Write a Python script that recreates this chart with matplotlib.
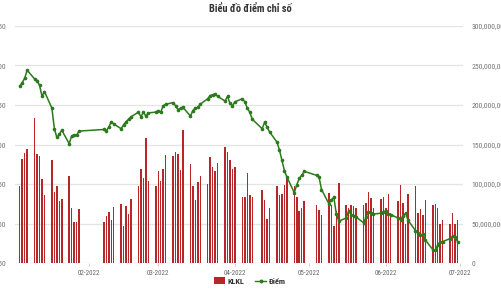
import matplotlib
matplotlib.use('Agg')
import matplotlib.pyplot as plt
import matplotlib.dates as mdates
from matplotlib import font_manager as fm
from matplotlib.ticker import FuncFormatter
from matplotlib.patches import Patch
from matplotlib.lines import Line2D
import pandas as pd
import numpy as np

title = 'Biểu đồ điểm chỉ số'
series_names = ['KLKL', 'Điểm']

dates = [
    '2022-01-04', '2022-01-05', '2022-01-06', '2022-01-07',
    '2022-01-10', '2022-01-11', '2022-01-12', '2022-01-13', '2022-01-14',
    '2022-01-17', '2022-01-18', '2022-01-19', '2022-01-20', '2022-01-21',
    '2022-01-24', '2022-01-25', '2022-01-26', '2022-01-27', '2022-01-28',
    '2022-02-07', '2022-02-08', '2022-02-09', '2022-02-10', '2022-02-11',
    '2022-02-14', '2022-02-15', '2022-02-16', '2022-02-17', '2022-02-18',
    '2022-02-21', '2022-02-22', '2022-02-23', '2022-02-24', '2022-02-25',
    '2022-02-28',
    '2022-03-01', '2022-03-02', '2022-03-03', '2022-03-04',
    '2022-03-07', '2022-03-08', '2022-03-09', '2022-03-10', '2022-03-11',
    '2022-03-14', '2022-03-15', '2022-03-16', '2022-03-17', '2022-03-18',
    '2022-03-21', '2022-03-22', '2022-03-23', '2022-03-24', '2022-03-25',
    '2022-03-28', '2022-03-29', '2022-03-30', '2022-03-31',
    '2022-04-01',
    '2022-04-04', '2022-04-05', '2022-04-06', '2022-04-07', '2022-04-08',
    '2022-04-12', '2022-04-13', '2022-04-14', '2022-04-15',
    '2022-04-18', '2022-04-19', '2022-04-20', '2022-04-21', '2022-04-22',
    '2022-04-25', '2022-04-26', '2022-04-27', '2022-04-28', '2022-04-29',
    '2022-05-04', '2022-05-05', '2022-05-06',
    '2022-05-09', '2022-05-10', '2022-05-11', '2022-05-12', '2022-05-13',
    '2022-05-16', '2022-05-17', '2022-05-18', '2022-05-19', '2022-05-20',
    '2022-05-23', '2022-05-24', '2022-05-25', '2022-05-26', '2022-05-27',
    '2022-05-30', '2022-05-31',
    '2022-06-01', '2022-06-02', '2022-06-03',
    '2022-06-06', '2022-06-07', '2022-06-08', '2022-06-09', '2022-06-10',
    '2022-06-13', '2022-06-14', '2022-06-15', '2022-06-16', '2022-06-17',
    '2022-06-20', '2022-06-21', '2022-06-22', '2022-06-23', '2022-06-24',
    '2022-06-27', '2022-06-28', '2022-06-29', '2022-06-30',
]

# trading volume, millions of shares
volume_m = [
    97, 132, 139, 144, 184, 138, 135, 106, 86, 130, 90, 98, 78, 81, 110, 69, 52, 52, 68,
    52, 59, 65, 54, 71, 75, 47, 72, 62, 81, 98, 119, 108, 158, 104, 98,
    117, 104, 119, 137, 136, 140, 138, 118, 168, 125, 97, 80, 102, 110, 100, 134, 122, 116, 127,
    147, 141, 130, 119,
    122, 84, 83, 114, 86, 84, 92, 80, 56, 69, 98, 86, 87, 99, 107, 97, 83, 66, 69, 78,
    73, 67, 61, 88, 73, 47, 66, 101, 73, 69, 74, 72, 69, 73, 76, 90, 82, 70, 81, 84,
    69, 87, 63, 79, 99, 76, 50, 87, 98, 63, 68, 61, 80, 74, 75, 69, 49, 54, 49, 63, 50, 55,
]

index_points = [
    1474, 1478, 1484, 1494, 1483, 1481, 1475, 1461, 1467, 1446, 1420, 1409, 1413, 1418,
    1401, 1411, 1412, 1412, 1417,
    1419, 1417, 1422, 1429, 1426, 1420, 1425, 1429, 1432, 1435, 1441, 1435, 1441, 1436,
    1440, 1441,
    1443, 1441, 1449, 1451, 1453, 1449, 1444, 1446, 1447, 1436, 1443, 1446, 1447, 1451,
    1458, 1462, 1463, 1464, 1461, 1455, 1461, 1452, 1449,
    1454, 1458, 1454, 1446, 1441, 1432, 1420, 1428, 1422, 1416, 1403, 1393, 1380, 1367,
    1359, 1339, 1349, 1357, 1361, 1366,
    1361, 1359, 1343, 1325, 1330, 1333, 1312, 1303, 1307, 1316, 1311, 1309, 1308, 1301,
    1308, 1315, 1313, 1312, 1313, 1315,
    1316, 1312, 1311, 1307, 1305, 1310, 1313, 1304, 1291, 1288, 1285, 1287, 1279, 1267,
    1266, 1273, 1277, 1277, 1281, 1284, 1283, 1277,
]


def font_available(name):
    try:
        fm.findfont(fm.FontProperties(family=name), fallback_to_default=False)
        return True
    except Exception:
        return False


family = 'DejaVu Sans'
for cand in ['Liberation Sans Narrow', 'Roboto Condensed', 'Open Sans Condensed',
             'Noto Sans Condensed', 'DejaVu Sans Condensed', 'Liberation Sans']:
    if font_available(cand):
        family = cand
        break
plt.rcParams['font.family'] = [family, 'DejaVu Sans']

x = pd.to_datetime(dates)
vol = np.array(volume_m) * 1e6
pts = np.array(index_points)

bar_color = '#b8262a'
line_color = '#2b7a1c'
grid_color = '#e4e4e4'
tick_color = '#777777'

fig = plt.figure(figsize=(5.01, 3.0), dpi=100)
renderer = fig.canvas.get_renderer()


def fit_size(text, target_px, weight='normal'):
    t = fig.text(0, 0, text, fontsize=10, fontweight=weight)
    w = t.get_window_extent(renderer=renderer).width
    t.remove()
    return 10.0 * target_px / w


title_size = min(fit_size(title, 84, 'bold'), 7.5)
xtick_size = min(fit_size('02-2022', 22), 6.0)
ytick_size = min(fit_size('300,000,000', 37), 6.0)
legend_size = min(fit_size('KLKL', 17, 'bold'), 6.5)

ax = fig.add_axes([15 / 501, 1 - 263 / 300, 448 / 501, 237 / 300])
ax2 = ax.twinx()

ax.bar(x, vol, width=0.6, color=bar_color, linewidth=0)
ax.set_ylim(0, 300e6)
ax.set_yticks(np.arange(0, 300e6 + 1, 50e6))
ax.yaxis.set_major_formatter(FuncFormatter(lambda v, p: f'{v:,.0f}'))
ax.yaxis.tick_right()
ax.grid(axis='y', color=grid_color, linewidth=0.9)
ax.set_axisbelow(True)

ax2.plot(x, pts, color=line_color, linewidth=1.1, marker='o', markersize=1.6)
ax2.set_ylim(1250, 1550)
ax2.set_yticks(np.arange(1250, 1551, 50))
ax2.yaxis.set_major_formatter(FuncFormatter(lambda v, p: f'{v:,.0f}'))
ax2.yaxis.tick_left()
ax2.grid(False)

ax.set_xlim(pd.Timestamp('2022-01-02 02:00'), pd.Timestamp('2022-07-02 05:00'))
ax.xaxis.set_major_locator(mdates.MonthLocator())
ax.xaxis.set_major_formatter(mdates.DateFormatter('%m-%Y'))

for a in (ax, ax2):
    for s in a.spines.values():
        s.set_visible(False)

ax.tick_params(axis='y', length=0, pad=6.3, labelsize=ytick_size, labelcolor=tick_color)
ax2.tick_params(axis='y', length=0, pad=6.5, labelsize=ytick_size, labelcolor=tick_color)
ax.tick_params(axis='x', length=2, width=0.6, color='#cccccc', pad=3.0,
               labelsize=xtick_size, labelcolor='#666666')

fig.text(250.5 / 501, 1 - 8.5 / 300, title, ha='center', va='center',
         fontsize=title_size, fontweight='bold', color='#333333')

handles = [
    Patch(facecolor=bar_color, edgecolor='none', label=series_names[0]),
    Line2D([], [], color=line_color, linewidth=1.0, marker='o', markersize=1.8,
           label=series_names[1]),
]
fs_px = legend_size * 100 / 72
fig.legend(handles=handles, loc='center', bbox_to_anchor=(250 / 501, 1 - 281 / 300),
           ncol=2, frameon=False, prop={'size': legend_size, 'weight': 'bold'},
           handlelength=10.5 / fs_px, handleheight=7 / fs_px, handletextpad=3 / fs_px,
           columnspacing=11 / fs_px, labelcolor='#333333', borderpad=0.2)

fig.savefig('out.png', dpi=100)
